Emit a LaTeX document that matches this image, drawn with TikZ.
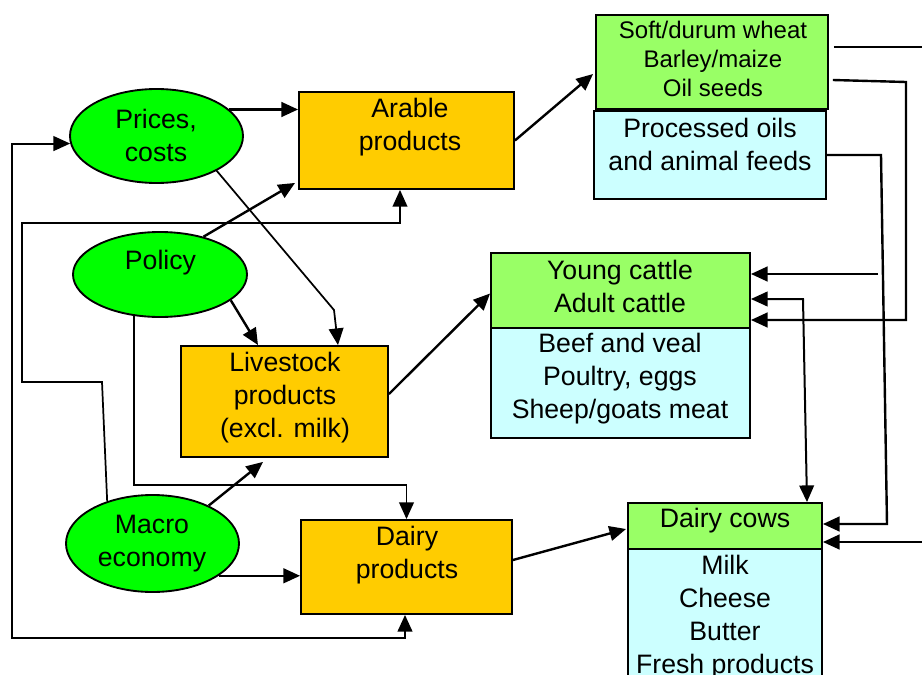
\documentclass[tikz,border=0pt]{standalone}
\usepackage{fontspec}
\setmainfont{Liberation Sans}
\usetikzlibrary{arrows.meta,calc,shapes.geometric}
\definecolor{ellgreen}{HTML}{00FF00}
\definecolor{boxorange}{HTML}{FFCC00}
\definecolor{boxgreen}{HTML}{99FF66}
\definecolor{boxcyan}{HTML}{CCFFFF}
\begin{document}
\begin{tikzpicture}[x=0.75pt,y=-0.75pt,
  ell/.style={ellipse, draw, fill=ellgreen, line width=1.4pt, inner sep=0pt},
  box/.style={rectangle, draw, line width=1.4pt, inner sep=0pt},
  orangebox/.style={box, fill=boxorange},
  greenbox/.style={box, fill=boxgreen},
  cyanbox/.style={box, fill=boxcyan},
  txt/.style={align=center, inner sep=0pt, font=\fontsize{20pt}{24.75pt}\selectfont},
  smalltxt/.style={align=center, inner sep=0pt, font=\fontsize{18pt}{21.75pt}\selectfont},
  tip/.tip={Triangle[length=12.5pt,width=11pt]},
  arr/.style={-tip, line width=1.8pt},
  arrboth/.style={tip-tip, line width=1.5pt},
  thinarr/.style={-tip, line width=1.3pt},
  ln/.style={line width=1.5pt}]
\useasboundingbox (0,0) rectangle (922,675);
\clip (0,0) rectangle (922,675);

% ellipses
\node[ell, minimum width=129.75pt, minimum height=70.5pt] (prices) at (156.5,136) {};
\node[ell, minimum width=130.5pt, minimum height=63.75pt] (policy) at (160,274.5) {};
\node[ell, minimum width=129.75pt, minimum height=72.75pt] (macro) at (152.5,543.5) {};

% orange boxes
\node[orangebox, minimum width=161.25pt, minimum height=72.75pt] (arable) at (406.5,140.5) {};
\node[orangebox, minimum width=155.25pt, minimum height=83.25pt] (livestock) at (284.5,401.5) {};
\node[orangebox, minimum width=158.25pt, minimum height=70.5pt] (dairyp) at (406.5,567) {};

% right boxes
\node[greenbox, minimum width=174pt, minimum height=70.5pt] (wheat) at (712,62) {};
\node[cyanbox, minimum width=174pt, minimum height=66pt] (proc) at (710,155) {};
\node[greenbox, minimum width=194.25pt, minimum height=56.25pt] (young) at (620.5,290.5) {};
\node[cyanbox, minimum width=194.25pt, minimum height=82.5pt] (beef) at (620.5,383) {};
\node[greenbox, minimum width=145.5pt, minimum height=34.5pt] (cows) at (725,526) {};
\node[cyanbox, minimum width=145.5pt, minimum height=113.25pt] (milk) at (725,624.5) {};

% texts
\node[txt] (prices-t) at (156,135.5) {Prices,\\costs};
\node[txt] (policy-t) at (160.5,262.5) {Policy};
\node[txt] (macro-t) at (152,543.5) {Macro\\economy};
\node[txt] (arable-t) at (410,127) {Arable\\products};
\node[txt] (live-t) at (285,398) {Livestock\\products\\(excl. milk)};
\node[txt] (dairyp-t) at (407,555) {Dairy\\products};
\node[smalltxt] (wheat-t) at (713,59) {Soft/durum wheat\\Barley/maize\\Oil seeds};
\node[txt] (proc-t) at (710,144) {Processed oils\\and animal feeds};
\node[txt] (young-t) at (620,286) {Young cattle\\Adult cattle};
\node[txt] (beef-t) at (620,378.5) {Beef and veal\\Poultry, eggs\\Sheep/goats meat};
\node[txt] (cows-t) at (725,521) {Dairy cows};
\node[txt, anchor=north] (milk-t) at (725,555) {Milk\\Cheese\\Butter\\Fresh products};

% free-end coordinates
\coordinate (wheatout) at (930,47);
\coordinate (youngin) at (878,274);
\coordinate (cowsin) at (930,542);

% connectors
\draw[arr] (prices.20) -- (prices.20 -| arable.west);
\draw[thinarr] (prices.-30) -- (334,310) -- ($(livestock.north)+(53.5,0)$);
\draw[arr] (policy.41) -- ($(arable.south west)+(-3,-7)$);
\draw[thinarr] (macro.137) -- (102,382) -| (22,223) -| ($(arable.south)+(-6.5,0)$);
\draw[arrboth] (prices.185) -| (12,638) -| ($(dairyp.south)+(-1.5,0)$);
\draw[arr] (policy.-20) -- ($(livestock.north)+(-26.5,0)$);
\draw[thinarr] (policy.238) |- ([yshift=25.5pt]dairyp.north) -- (dairyp.north);
\draw[arr] (macro.34) -- ($(livestock.south)+(-21.5,4)$);
\draw[arr] (macro.-26) -- (macro.-26 -| dairyp.west);
\draw[arr] (arable.east) -- ($(wheat.west)+(-2,12)$);
\draw[arr] ($(livestock.east)+(0,-7.5)$) -- ($(young.west)+(0,3)$);
\draw[arr] ($(dairyp.east)+(0,-7)$) -- ($(cows.west)+(-1,3)$);
\draw[ln] ($(wheat.east)+(5,-15)$) -- (wheatout);
\draw[arr] ($(wheat.east)+(4,18)$) -- (906,82) |- ($(young.east)+(0,29.5)$);
\draw[arr] (proc.east) -- (881,155) -- (887,524) -- ($(cows.east)+(0,-2)$);
\draw[arr] (youngin) -- ($(young.east)+(0,-16.5)$);
\draw[arrboth] ($(young.east)+(0,8.5)$) -- (803,299) -- ($(cows.north)+(82,0)$);
\draw[arr] (cowsin) -- ($(cows.east)+(0,16)$);
\end{tikzpicture}
\end{document}
